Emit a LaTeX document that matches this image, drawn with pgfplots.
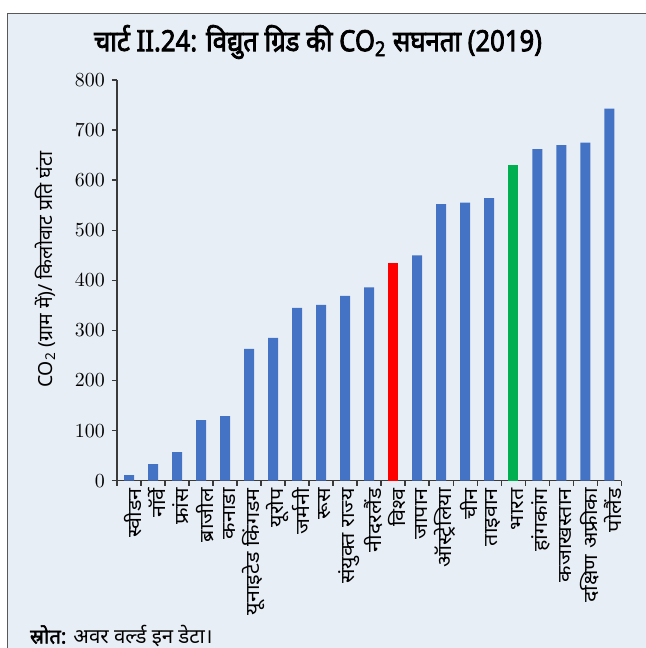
\documentclass[border=0pt]{standalone}
\usepackage{fontspec}
\usepackage{pgfplots}
\pgfplotsset{compat=1.18}

\newfontfamily\deva[Script=Devanagari]{Noto Sans}
\newfontfamily\devawide[Script=Devanagari,FakeStretch=1.12]{Noto Sans}
\newfontfamily\devabold[Script=Devanagari,FakeBold=2.2]{Noto Sans}
\newfontfamily\titlefont[Script=Devanagari,FakeStretch=0.88,FakeBold=2.6]{Noto Sans}

\definecolor{barblue}{HTML}{4472C4}
\definecolor{worldred}{HTML}{FF0000}
\definecolor{indiagreen}{HTML}{00B050}
\definecolor{panel}{HTML}{E8EEF5}
\definecolor{axisgray}{HTML}{3A3A3A}

\begin{document}
\begin{tikzpicture}
\path[use as bounding box] (0,0) rectangle (323bp,-324bp);
\clip (0,0) rectangle (323bp,-324bp);
% panel background
\draw[draw=black!65, line width=0.6bp, fill=panel] (3.7bp,-6.7bp) rectangle (340bp,-340bp);
% title
\node[font=\titlefont\fontsize{14.6bp}{16bp}\selectfont] at (159bp,-21bp)
  {चार्ट II.24: विद्युत ग्रिड की CO\textsubscript{2} सघनता (2019)};

\begin{axis}[
  at={(58.5bp,-240.35bp)}, anchor=south west,
  width=252.15bp, height=200.35bp, scale only axis,
  xmin=-0.5, xmax=20.5, ymin=0, ymax=800,
  axis lines*=left,
  axis line style={draw=axisgray, line width=0.7bp},
  ytick={0,100,...,800},
  xtick={0,...,20},
  xticklabels={स्वीडन, नॉर्वे, फ्रांस, ब्राजील, कनाडा, यूनाइटेड किंगडम, यूरोप, जर्मनी, रूस, संयुक्त राज्य, नीदरलैंड, विश्व, जापान, ऑस्ट्रेलिया, चीन, ताइवान, भारत, हांगकांग, कजाखस्तान, दक्षिण अफ्रीका, पोलैंड},
  minor xtick={-0.5,0.5,...,20.5},
  tick align=outside,
  major tick length=2.6bp, minor tick length=2.6bp,
  tick style={draw=axisgray, line width=0.7bp},
  major x tick style={draw=none},
  x tick label style={rotate=90, anchor=east, font=\devawide\fontsize{9.6bp}{11bp}\selectfont, inner sep=1bp, yshift=-2bp},
  y tick label style={font=\fontsize{10bp}{12bp}\selectfont},
  ylabel={CO\textsubscript{2} (ग्राम में)/ किलोवाट प्रति घंटा},
  ylabel style={font=\deva\fontsize{9.7bp}{11bp}\selectfont, at={(axis description cs:-0.143,0.526)}, anchor=center},
  ybar, bar width=5bp,
]
\addplot[fill=barblue, draw=none, bar shift=0pt] coordinates {
  (0,11) (1,33) (2,57) (3,121) (4,129) (5,263) (6,285) (7,345) (8,351) (9,369) (10,386)
  (12,450) (13,552) (14,555) (15,564)
  (17,662) (18,670) (19,675) (20,743)
};
\addplot[fill=worldred, draw=none, bar shift=0pt] coordinates {(11,435)};
\addplot[fill=indiagreen, draw=none, bar shift=0pt] coordinates {(16,630)};
\end{axis}

% source line
\node[anchor=west, font=\deva\fontsize{10.2bp}{12bp}\selectfont] at (11.5bp,-318bp)
  {{\devabold स्रोत:} अवर वर्ल्ड इन डेटा।};
\end{tikzpicture}
\end{document}
